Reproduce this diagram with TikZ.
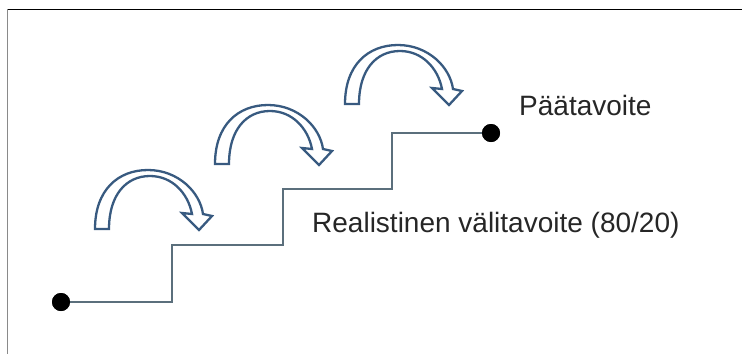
\documentclass[tikz,border=0pt]{standalone}
\usepackage{fontspec}
\setmainfont{Liberation Sans}
\definecolor{arrowblue}{HTML}{385A80}
\definecolor{stairgrey}{HTML}{5B6F7C}
\definecolor{framegrey}{HTML}{8A8A8A}
\begin{document}
\begin{tikzpicture}[x=1pt,y=-1pt,
  dotnode/.style={circle,fill=black,inner sep=0pt,minimum size=18pt},
  stairline/.style={draw=stairgrey,line width=1.5pt},
  labeltext/.style={font=\fontsize{28}{32}\selectfont,text=black!85,inner sep=0pt,anchor=base west},
  curvarrow/.pic={
    \draw[arrowblue,line width=2.3pt,fill=white,line join=miter]
      (0,0) .. controls (0,-39) and (23,-59) .. (53,-59)
            .. controls (83,-59) and (105,-37) .. (108,-15)
      -- (117,-13) -- (104,1) -- (87,-16) -- (97,-15)
            .. controls (93,-36) and (77,-53) .. (55,-53)
            .. controls (31,-53) and (14,-34) .. (14,0) -- cycle;
  }]
\useasboundingbox (0,0) rectangle (742,354);
% frame
\draw[black,line width=1.8pt] (7,9.5) -- (742,9.5);
\draw[framegrey,line width=1.4pt] (7.5,9) -- (7.5,354);
% stairs
\coordinate (s1) at (172,302);
\coordinate (s2) at (172,245);
\coordinate (s3) at (283,245);
\coordinate (s4) at (283,189);
\coordinate (s5) at (392,189);
\coordinate (s6) at (392,133);
\node[dotnode] (start) at (61,302) {};
\node[dotnode] (goal) at (491,133) {};
\draw[stairline] (start.center) -- (s1) -- (s2) -- (s3) -- (s4) -- (s5) -- (s6) -- (goal.center);
\node[dotnode] at (start.center) {};
\node[dotnode] at (goal.center) {};
% arrows
\pic at (95,229) {curvarrow};
\pic at (215,164) {curvarrow};
\pic at (345,104) {curvarrow};
% labels
\node[labeltext] (paa) at (519,115) {Päätavoite};
\node[labeltext] (vali) at (312,232) {Realistinen välitavoite (80/20)};
\end{tikzpicture}
\end{document}
